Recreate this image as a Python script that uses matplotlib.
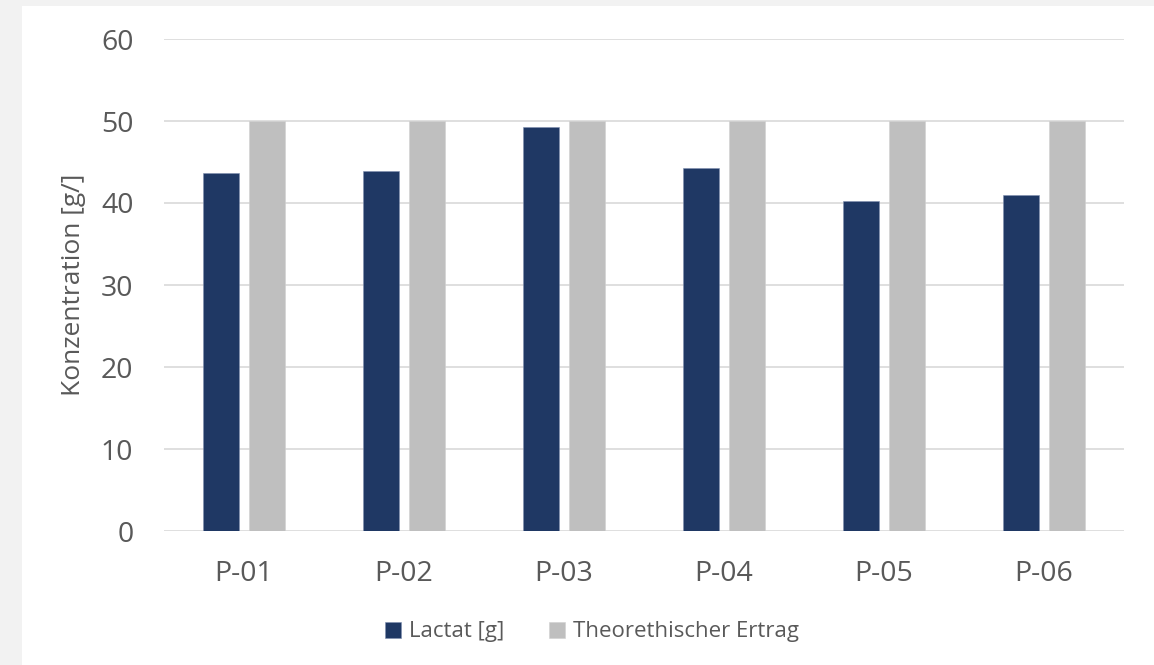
import matplotlib
matplotlib.use("Agg")
import matplotlib.pyplot as plt
import numpy as np
from matplotlib.patches import Rectangle

categories = ["P-01", "P-02", "P-03", "P-04", "P-05", "P-06"]
lactat = [43.6, 43.9, 49.3, 44.3, 40.2, 41.0]
theoretisch = [50, 50, 50, 50, 50, 50]
series_names = ["Lactat [g]", "Theorethischer Ertrag"]
y_ticks = [0, 10, 20, 30, 40, 50, 60]

plt.rcParams['font.family'] = ['Open Sans', 'DejaVu Sans']
text_color = "#595959"
dark = "#1f3864"
light = "#bfbfbf"

W, H = 1154, 665
fig = plt.figure(figsize=(W / 100, H / 100), dpi=100)
fig.patch.set_facecolor("#f2f2f2")
fig.patches.append(Rectangle((22 / W, 0), 1 - 22 / W, 1 - 6 / H, transform=fig.transFigure,
                             facecolor="white", edgecolor="none", zorder=-10))

ax = fig.add_axes([164 / W, (H - 531) / H, (1124 - 164) / W, (531 - 39) / H])
ax.set_facecolor("none")

x = np.arange(len(categories))
bw = 0.225
off = 0.141
b1 = ax.bar(x - off, lactat, width=bw, color=dark, edgecolor="#8090b0", linewidth=0.4,
            label=series_names[0], zorder=3)
b2 = ax.bar(x + off, theoretisch, width=bw, color=light, edgecolor="#d0d0d0", linewidth=0.4,
            label=series_names[1], zorder=3)

ax.set_xlim(-0.5, len(categories) - 0.5)
ax.set_ylim(0, 60)
ax.set_yticks(y_ticks)
ax.set_xticks(x)
ax.set_xticklabels(categories)
ax.grid(axis="y", color="#d9d9d9", linewidth=1.2, zorder=0)
for s in ax.spines.values():
    s.set_visible(False)
ax.tick_params(axis="both", length=0, labelsize=20.5, colors=text_color)
ax.tick_params(axis="y", pad=22)
ax.tick_params(axis="x", pad=21)
ax.set_ylabel("Konzentration [g/]", fontsize=19, color=text_color, labelpad=11)

leg = fig.legend(handles=[b1, b2], labels=series_names, loc="center",
                 bbox_to_anchor=(592 / W, 1 - 632 / H), ncol=2, frameon=False,
                 fontsize=16, handlelength=0.72, handleheight=0.72,
                 handletextpad=0.35, columnspacing=2.0)
for t in leg.get_texts():
    t.set_color(text_color)

fig.savefig("out.png", dpi=100, facecolor=fig.get_facecolor())
